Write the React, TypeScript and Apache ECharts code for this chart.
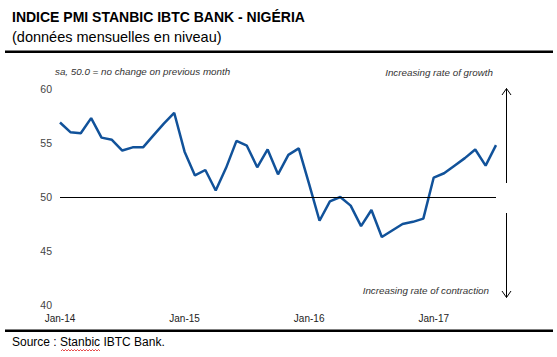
import React, { useEffect, useRef } from "react";
import * as echarts from "echarts";

const monthNames = ["Jan", "Feb", "Mar", "Apr", "May", "Jun", "Jul", "Aug", "Sep", "Oct", "Nov", "Dec"];
const years = ["14", "15", "16", "17"];
const categories: string[] = [];
years.forEach((y) => monthNames.forEach((m) => categories.push(`${m}-${y}`)));
categories.length = 43; // Jan-14 .. Jul-17

const pmiValues = [
  56.9, 56.0, 55.9, 57.3, 55.5, 55.3, 54.3, 54.6, 54.6, 55.7, 56.8, 57.8,
  54.2, 52.0, 52.5, 50.6, 52.7, 55.2, 54.75, 52.75, 54.4, 52.1, 53.9, 54.5,
  51.2, 47.8, 49.6, 50.0, 49.2, 47.3, 48.8, 46.3, 46.9, 47.5, 47.7, 48.0,
  51.8, 52.2, 52.9, 53.6, 54.4, 52.9, 54.8,
];

const yTicks = { min: 40, max: 60, interval: 5 };
const shownXLabels = ["Jan-14", "Jan-15", "Jan-16", "Jan-17"];

const title = "INDICE PMI STANBIC IBTC BANK - NIGÉRIA";
const subtitle = "(données mensuelles en niveau)";
const note = "sa, 50.0 = no change on previous month";
const growthText = "Increasing rate of growth";
const contractionText = "Increasing rate of contraction";
const sourceText = "Source : Stanbic IBTC Bank.";

export default function App() {
  const ref = useRef<HTMLDivElement>(null);
  useEffect(() => {
    if (!ref.current) return;
    const chart = echarts.init(ref.current, undefined, { renderer: "svg" });
    const font = "Liberation Sans, Arial, sans-serif";
    const squiggle: number[][] = [];
    for (let i = 0; i <= 26; i++) squiggle.push([61 + i * 1.5, i % 2 === 0 ? 351 : 349.5]);
    chart.setOption({
      animation: false,
      backgroundColor: "#ffffff",
      grid: { left: 60, right: 61, top: 89, bottom: 52, containLabel: false },
      xAxis: {
        type: "category",
        data: categories,
        boundaryGap: false,
        axisLine: { show: false },
        axisTick: { show: false },
        splitLine: { show: false },
        axisLabel: {
          interval: 0,
          formatter: (v: string) => (shownXLabels.includes(v) ? v : ""),
          color: "#222",
          fontSize: 10,
          fontFamily: font,
          margin: 8,
        },
      },
      yAxis: {
        type: "value",
        min: yTicks.min,
        max: yTicks.max,
        interval: yTicks.interval,
        axisLine: { show: false },
        axisTick: { show: false },
        splitLine: { show: false },
        axisLabel: { color: "#444", fontSize: 10.5, fontFamily: font, margin: 8 },
      },
      series: [
        {
          type: "line",
          data: pmiValues,
          symbol: "none",
          lineStyle: { color: "#11529a", width: 2.5 },
          markLine: {
            silent: true,
            symbol: "none",
            label: { show: false },
            lineStyle: { color: "#000", width: 1.2, type: "solid" },
            data: [{ yAxis: 50 }],
          },
        },
      ],
      graphic: [
        { type: "text", left: 12, top: 10, style: { text: title, font: `bold 14px ${font}`, fill: "#000" } },
        { type: "text", left: 12, top: 29, style: { text: subtitle, font: `14.5px ${font}`, fill: "#000" } },
        { type: "rect", shape: { x: 5, y: 50.5, width: 548, height: 2.5 }, style: { fill: "#000" } },
        { type: "text", x: 55, y: 71, style: { text: note, font: `italic 9.8px ${font}`, fill: "#333", verticalAlign: "middle", align: "left" } },
        { type: "text", x: 493, y: 72, style: { text: growthText, font: `italic 9.8px ${font}`, fill: "#333", verticalAlign: "middle", align: "right" } },
        { type: "text", x: 489, y: 290, style: { text: contractionText, font: `italic 9.8px ${font}`, fill: "#333", verticalAlign: "middle", align: "right" } },
        { type: "line", shape: { x1: 506.5, y1: 183, x2: 506.5, y2: 88.5 }, style: { stroke: "#000", lineWidth: 1 } },
        { type: "polyline", shape: { points: [[502, 95], [506.5, 88.5], [511, 95]] }, style: { stroke: "#000", lineWidth: 1, fill: "none" } },
        { type: "line", shape: { x1: 506.5, y1: 213, x2: 506.5, y2: 297.5 }, style: { stroke: "#000", lineWidth: 1 } },
        { type: "polyline", shape: { points: [[502, 291], [506.5, 297.5], [511, 291]] }, style: { stroke: "#000", lineWidth: 1, fill: "none" } },
        { type: "rect", shape: { x: 5, y: 329.5, width: 548, height: 2.5 }, style: { fill: "#000" } },
        { type: "text", left: 12, top: 336, style: { text: sourceText, font: `12px ${font}`, fill: "#000" } },
        { type: "polyline", shape: { points: squiggle }, style: { stroke: "#e02020", lineWidth: 0.8, fill: "none" } },
      ],
    });
    return () => chart.dispose();
  }, []);
  return <div ref={ref} style={{ position: "absolute", left: 0, top: 0, width: 557, height: 357 }} />;
}
